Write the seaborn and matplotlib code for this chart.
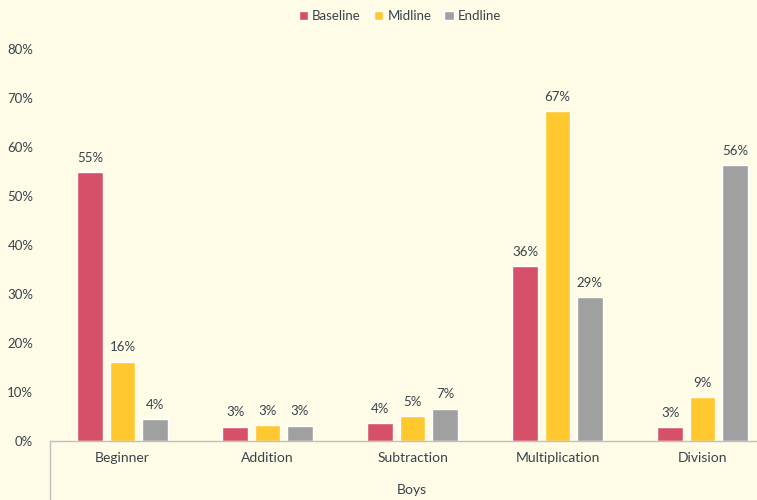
import matplotlib
matplotlib.use("Agg")
import matplotlib.pyplot as plt
import seaborn as sns
import pandas as pd
from matplotlib.patches import Patch

categories = ["Beginner", "Addition", "Subtraction", "Multiplication", "Division"]
series = ["Baseline", "Midline", "Endline"]
baseline = [54.9, 2.9, 3.6, 35.7, 2.8]
midline = [16.2, 3.2, 5.1, 67.3, 9.0]
endline = [4.4, 3.1, 6.6, 29.4, 56.3]
yticks = [0, 10, 20, 30, 40, 50, 60, 70, 80]
group_label = "Boys"

colors = ["#D6506A", "#FFC82E", "#A0A0A0"]
bg = "#FEFCE7"
txt = "#37434A"

rows = []
for s, vals in zip(series, [baseline, midline, endline]):
    for c, v in zip(categories, vals):
        rows.append({"cat": c, "series": s, "val": v})
df = pd.DataFrame(rows)

sns.set_theme(style="white")
plt.rcParams["font.family"] = ["Lato", "DejaVu Sans"]

fig = plt.figure(figsize=(7.57, 5.0), dpi=100, facecolor=bg)
ax = fig.add_axes([50 / 757, 59 / 500, 725 / 757, 392 / 500])
ax.set_facecolor(bg)

sns.barplot(data=df, x="cat", y="val", hue="series", order=categories,
            hue_order=series, palette=colors, width=0.67, gap=0.2,
            dodge=True, legend=False, ax=ax, saturation=1, errorbar=None)

for cont in ax.containers:
    ax.bar_label(cont, labels=[f"{round(b.get_height()):d}%" for b in cont],
                 padding=6, fontsize=9.5, color=txt)

ax.set_ylim(0, 80)
ax.set_yticks(yticks)
ax.set_yticklabels([f"{t}%" for t in yticks], fontsize=9.5, color=txt)
ax.tick_params(axis="y", length=0, pad=12)
ax.tick_params(axis="x", length=0, pad=8, labelsize=10, labelcolor=txt)
ax.set_xlim(-0.5, 4.5)
ax.set_xlabel("")
ax.set_ylabel("")
for s in ["top", "right", "left"]:
    ax.spines[s].set_visible(False)
ax.spines["bottom"].set_color("#BFBFBF")
ax.spines["bottom"].set_linewidth(1)

ax.plot([0, 0], [0, -0.16], transform=ax.transAxes, color="#BFBFBF",
        lw=1, clip_on=False)
fig.text(412 / 757, 10 / 500, group_label, ha="center", va="center",
         fontsize=10, color=txt)

handles = [Patch(facecolor=c, label=s) for c, s in zip(colors, series)]
fig.legend(handles=handles, loc="center", bbox_to_anchor=(400 / 757, 1 - 16 / 500),
           ncol=3, frameon=False, fontsize=9.5, handlelength=0.7,
           handleheight=0.7, handletextpad=0.3, columnspacing=1.0,
           labelcolor=txt)

fig.savefig("out.png", dpi=100, facecolor=bg)
